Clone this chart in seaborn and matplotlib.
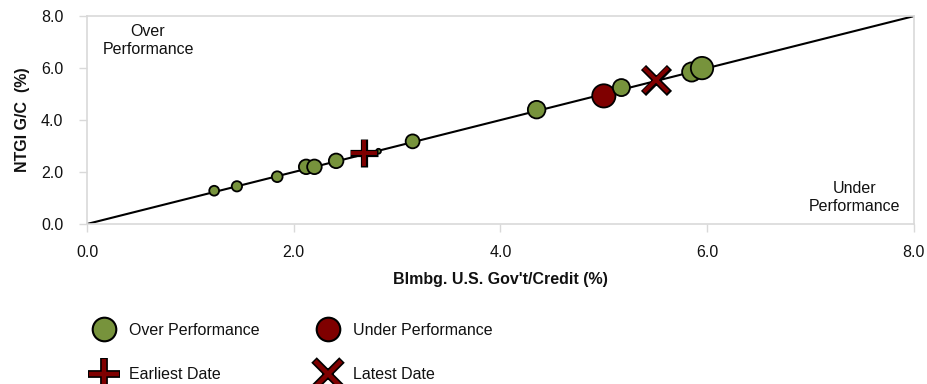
import matplotlib
matplotlib.use("Agg")
import matplotlib.pyplot as plt
from matplotlib.lines import Line2D
import pandas as pd
import seaborn as sns

# data
bench = [1.23, 1.45, 1.84, 2.12, 2.20, 2.41, 2.60, 2.82, 3.15, 4.35, 5.00, 5.17, 5.85, 5.95]
fund = [1.28, 1.45, 1.82, 2.20, 2.20, 2.43, 2.70, 2.80, 3.18, 4.40, 4.93, 5.25, 5.85, 6.00]
weight = [50, 55, 60, 110, 110, 110, 12, 12, 100, 160, 280, 150, 190, 260]
group = ["Over", "Over", "Over", "Over", "Over", "Over", "Over", "Over",
         "Over", "Over", "Under", "Over", "Over", "Over"]
earliest = (2.68, 2.75)
latest = (5.50, 5.55)
ticks = [0, 2, 4, 6, 8]

green = "#77933C"
red = "#7F0000"
fs = 11.5

sns.set_style("white")
plt.rcParams["font.family"] = ["Liberation Sans", "DejaVu Sans"]
plt.rcParams["text.color"] = "#111111"
plt.rcParams["axes.labelcolor"] = "#111111"
plt.rcParams["xtick.labelcolor"] = "#111111"
plt.rcParams["ytick.labelcolor"] = "#111111"

df = pd.DataFrame({"bench": bench, "fund": fund, "weight": weight, "group": group})

fig = plt.figure(figsize=(9.28, 3.84), dpi=100)
ax = fig.add_axes([0.0938, 0.4167, 0.891, 0.5413])

ax.plot([0, 8], [0, 8], color="black", lw=1.5, zorder=1)
sns.scatterplot(data=df, x="bench", y="fund", hue="group", size="weight",
                sizes=(12, 280), size_norm=(12, 280),
                palette={"Over": green, "Under": red},
                edgecolor="black", linewidth=1.3, legend=False, ax=ax, zorder=3)


def outlined(marker, size, inner, outer=None):
    # stroke marker with a black outline, like the reference
    outer = outer if outer is not None else inner + 2.4
    back = Line2D([], [], ls="", marker=marker, ms=size + 1.5, mew=outer, color="black")
    front = Line2D([], [], ls="", marker=marker, ms=size, mew=inner, color=red)
    return back, front


for (mx, my), mk in [(earliest, "+"), (latest, "x")]:
    ms = 19 if mk == "+" else 17
    ax.plot([mx], [my], ls="", marker=mk, ms=ms + 1.5, mew=5.2, color="black", zorder=4)
    ax.plot([mx], [my], ls="", marker=mk, ms=ms, mew=2.8, color=red, zorder=5)

ax.set_xlim(0, 8)
ax.set_ylim(0, 8)
ax.set_xticks(ticks)
ax.set_yticks(ticks)
ax.set_xticklabels([f"{t:.1f}" for t in ticks], fontsize=fs)
ax.set_yticklabels([f"{t:.1f}" for t in ticks], fontsize=fs)
ax.tick_params(axis="y", left=True, length=6, width=1, color="#d9d9d9", pad=11)
ax.tick_params(axis="x", bottom=True, length=6, width=1, color="#d9d9d9", pad=9)
for sp in ax.spines.values():
    sp.set_color("#d9d9d9")
    sp.set_linewidth(1.2)
ax.set_xlabel("Blmbg. U.S. Gov't/Credit (%)", fontsize=fs, fontweight="bold", labelpad=9)
ax.set_ylabel("NTGI G/C  (%)", fontsize=fs, fontweight="bold", labelpad=8)

ax.text(0.59, 7.08, "Over\nPerformance", ha="center", va="center", fontsize=fs,
        linespacing=1.25)
ax.text(7.43, 1.02, "Under\nPerformance", ha="center", va="center", fontsize=fs,
        linespacing=1.25)

handles = [
    Line2D([], [], ls="", marker="o", ms=17, mfc=green, mec="black", mew=1.5),
    outlined("+", 21, 3.2),
    Line2D([], [], ls="", marker="o", ms=17, mfc=red, mec="black", mew=1.5),
    outlined("x", 19, 3.2),
]
labels = ["Over Performance", "Earliest Date", "Under Performance", "Latest Date"]
fig.legend(handles, labels, ncol=2, loc="upper left", bbox_to_anchor=(0.095, 0.16),
           frameon=False, fontsize=fs, handletextpad=0.55, columnspacing=3.3,
           labelspacing=1.85, borderaxespad=0, borderpad=0)

fig.savefig("out.png", dpi=100)
